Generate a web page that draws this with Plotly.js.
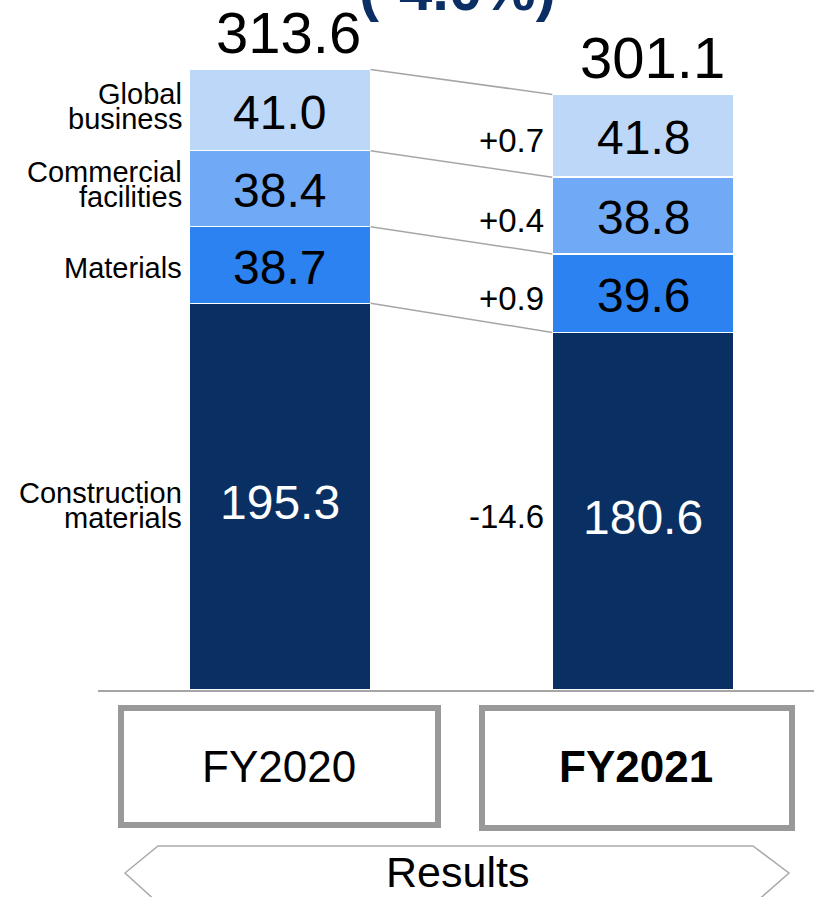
<!DOCTYPE html>
<html><head><meta charset="utf-8">
<script src="https://cdn.plot.ly/plotly-3.0.1.min.js"></script>
<style>html,body{margin:0;padding:0;background:#fff;overflow:hidden}</style>
</head><body><div id="chart" style="width:814px;height:897px"></div>
<script>
// ---- data ----
const years = ['FY2020', 'FY2021'];
const segments = ['Construction<br>materials', 'Materials', 'Commercial<br>facilities', 'Global<br>business'];
const fy2020 = [195.3, 38.7, 38.4, 41.0];
const fy2021 = [180.6, 39.6, 38.8, 41.8];
const totals = [313.6, 301.1];
const changes = ['-14.6', '+0.9', '+0.4', '+0.7'];
const changeTitle = '(-4.0%)';
const periodLabel = 'Results';

// ---- styling ----
const colors = ['#092f63', '#2c82f0', '#70a9f6', '#bcd7f8'];
const textColors = ['#ffffff', '#000000', '#000000', '#000000'];
const labelShift = [-9, -3, 4, 4];
const FONT = '"Liberation Sans", Arial, "DejaVu Sans", sans-serif';
const W = 814, H = 897, ML = 98, MR = 0, MT = 0, MB = 207;
const plotW = W - ML - MR, plotH = H - MT - MB;
const px2x = p => (p - ML) / plotW;
const py2y = p => (MT + plotH - p) / plotH;

function cum(a) { let s = 0; return a.map(v => (s += v)); }
const cumA = cum(fy2020), cumB = cum(fy2021);

const traces = [];
segments.forEach((name, i) => {
  traces.push({
    type: 'bar', x: [0, 1], y: [fy2020[i], fy2021[i]], width: 0.5,
    marker: { color: colors[i], line: { color: '#ffffff', width: 1.5 } },
    name: name, hoverinfo: 'skip', showlegend: false
  });
});

// connector lines between segment tops
const lx = [], ly = [];
segments.forEach((n, i) => { lx.push(0.25, 0.75, null); ly.push(cumA[i], cumB[i], null); });
traces.push({ type: 'scatter', mode: 'lines', x: lx, y: ly, line: { color: '#a6a6a6', width: 1.5 },
  hoverinfo: 'skip', showlegend: false, cliponaxis: false });

const annotations = [];
// in-bar values
segments.forEach((n, i) => {
  [[0, cumA[i] - fy2020[i] / 2, fy2020[i]], [1, cumB[i] - fy2021[i] / 2, fy2021[i]]].forEach(p => {
    annotations.push({ x: p[0], y: p[1], xref: 'x', yref: 'y', text: p[2].toFixed(1), showarrow: false,
      xanchor: 'center', yanchor: 'middle', yshift: i === 0 ? -6 : -2,
      font: { family: FONT, size: 48, color: textColors[i] } });
  });
});
// totals
totals.forEach((t, j) => annotations.push({ x: j, y: t, xref: 'x', yref: 'y', text: t.toFixed(1),
  showarrow: false, xanchor: 'center', yanchor: 'bottom', xshift: 9, yshift: 2,
  font: { family: FONT, size: 58, color: '#000' } }));
// segment names (left)
segments.forEach((n, i) => {
  const lines = n.split('<br>');
  const mid = cumA[i] - fy2020[i] / 2;
  lines.forEach((ln, k) => annotations.push({ x: -0.25, y: mid, xref: 'x', yref: 'y', text: ln,
    showarrow: false, xanchor: 'right', yanchor: 'middle', xshift: -5,
    yshift: (lines.length - 1) * 12.5 - k * 25 + labelShift[i],
    font: { family: FONT, size: 29, color: '#000' } }));
});
// changes
changes.forEach((c, i) => annotations.push({ x: 0.75, y: cumB[i] - fy2021[i] / 2, xref: 'x', yref: 'y',
  text: c, showarrow: false, xanchor: 'right', yanchor: 'middle', xshift: -6, yshift: -5,
  font: { family: FONT, size: 33, color: '#000' } }));
// year boxes labels
const yearCx = [279, 636];
years.forEach((y, j) => annotations.push({ x: px2x(yearCx[j]), y: py2y(766), xref: 'paper', yref: 'paper',
  text: j === 1 ? '<b>' + y + '</b>' : y, showarrow: false, xanchor: 'center', yanchor: 'middle',
  font: { family: FONT, size: 44, color: '#000' } }));
// results
annotations.push({ x: px2x(457), y: py2y(872), xref: 'paper', yref: 'paper', text: periodLabel,
  showarrow: false, xanchor: 'center', yanchor: 'middle', font: { family: FONT, size: 43, color: '#000' } });
// title (cut off at top)
annotations.push({ x: px2x(457), y: py2y(-10), xref: 'paper', yref: 'paper', text: '<b>' + changeTitle + '</b>',
  showarrow: false, xanchor: 'center', yanchor: 'middle', font: { family: FONT, size: 60, color: '#0b2f64' } });

const shapes = [
  { type: 'rect', xref: 'paper', yref: 'paper', x0: px2x(121), x1: px2x(438), y0: py2y(708), y1: py2y(825),
    line: { color: '#999999', width: 6 }, fillcolor: 'rgba(0,0,0,0)' },
  { type: 'rect', xref: 'paper', yref: 'paper', x0: px2x(482), x1: px2x(792), y0: py2y(708), y1: py2y(828),
    line: { color: '#999999', width: 6 }, fillcolor: 'rgba(0,0,0,0)' },
  { type: 'path', xref: 'paper', yref: 'paper',
    path: 'M' + [[125,873],[158,846],[753,846],[789,873],[755,903],[158,903]].map(p => px2x(p[0]) + ',' + py2y(p[1])).join('L') + 'Z',
    line: { color: '#aaaaaa', width: 1.5 }, fillcolor: 'rgba(0,0,0,0)' }
];

const layout = {
  width: W, height: H, margin: { l: ML, r: MR, t: MT, b: MB, pad: 0 },
  paper_bgcolor: '#ffffff', plot_bgcolor: '#ffffff', barmode: 'stack', showlegend: false,
  xaxis: { range: [-0.5, 1.47], showline: true, linecolor: '#a6a6a6', linewidth: 2, showticklabels: false,
    showgrid: false, zeroline: false, ticks: '', fixedrange: true },
  yaxis: { range: [0, 348.5], visible: false, showgrid: false, zeroline: false, fixedrange: true },
  annotations: annotations, shapes: shapes, hovermode: false,
  font: { family: FONT }
};
Plotly.newPlot('chart', traces, layout, { displayModeBar: false, staticPlot: true });
</script></body></html>
